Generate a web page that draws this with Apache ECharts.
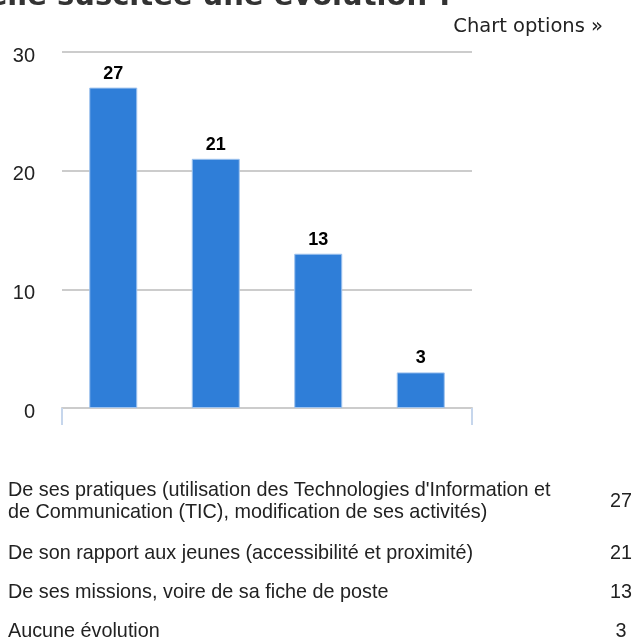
<!DOCTYPE html>
<html>
<head>
<meta charset="utf-8">
<script src="https://cdn.jsdelivr.net/npm/echarts@6/dist/echarts.min.js"></script>
<style>
html,body{margin:0;padding:0;background:#fff;overflow:hidden;}
#c{width:632px;height:639px;}
</style>
</head>
<body>
<div id="c"></div>
<script>
var titleText = "elle suscitée une évolution ?";
var categories = [
  "De ses pratiques (utilisation des Technologies d'Information et\nde Communication (TIC), modification de ses activités)",
  "De son rapport aux jeunes (accessibilité et proximité)",
  "De ses missions, voire de sa fiche de poste",
  "Aucune évolution"
];
var values = [27, 21, 13, 3];
var yTicks = [0, 10, 20, 30];

var chart = echarts.init(document.getElementById('c'));

var rowY = [502, 554, 593, 632];
var tableFont = '19.8px "Liberation Sans", Arial, sans-serif';
var tableEls = [];
categories.forEach(function (cat, i) {
  tableEls.push({
    type: 'text', x: 8, y: rowY[i], silent: true,
    style: {
      text: cat, fill: '#222', font: tableFont,
      lineHeight: 22, verticalAlign: 'middle', align: 'left'
    }
  });
  tableEls.push({
    type: 'text', x: 621, y: rowY[i], silent: true,
    style: {
      text: String(values[i]), fill: '#222', font: tableFont,
      verticalAlign: 'middle', align: 'center'
    }
  });
});

chart.setOption({
  animation: false,
  graphic: [
    {
      type: 'text', x: 454, y: -17, silent: true,
      style: { text: titleText, fill: '#333', font: 'bold 29px "DejaVu Sans", sans-serif', align: 'right', verticalAlign: 'top' }
    },
    {
      type: 'text', x: 603, y: 27, silent: true,
      style: { text: 'Chart options »', fill: '#222', font: '19.5px "DejaVu Sans", sans-serif', align: 'right', verticalAlign: 'middle' }
    }
  ].concat(tableEls),
  grid: { left: 62, right: 160, top: 52, bottom: 231, containLabel: false },
  xAxis: {
    type: 'category',
    data: categories,
    axisLine: { lineStyle: { color: '#cccccc', width: 2 } },
    axisTick: { show: true, length: 17, lineStyle: { color: '#c6d6ec', width: 2 } },
    axisLabel: { show: false },
    splitLine: { show: false }
  },
  yAxis: {
    type: 'value', min: yTicks[0], max: yTicks[yTicks.length - 1], interval: 10,
    axisLine: { show: false }, axisTick: { show: false },
    axisLabel: {
      color: '#222', fontSize: 20, fontFamily: '"Liberation Sans", Arial, sans-serif',
      margin: 27, verticalAlign: 'top', lineHeight: 8
    },
    splitLine: { lineStyle: { color: '#cccccc', width: 2 } }
  },
  series: [{
    type: 'bar',
    data: values,
    barWidth: 48,
    itemStyle: { color: '#2f7ed8', borderColor: '#9fc3ee', borderWidth: 1 },
    label: {
      show: true, position: 'top', distance: 5,
      color: '#000', fontWeight: 'bold', fontSize: 18,
      fontFamily: '"Liberation Sans", Arial, sans-serif'
    }
  }]
});
</script>
</body>
</html>
